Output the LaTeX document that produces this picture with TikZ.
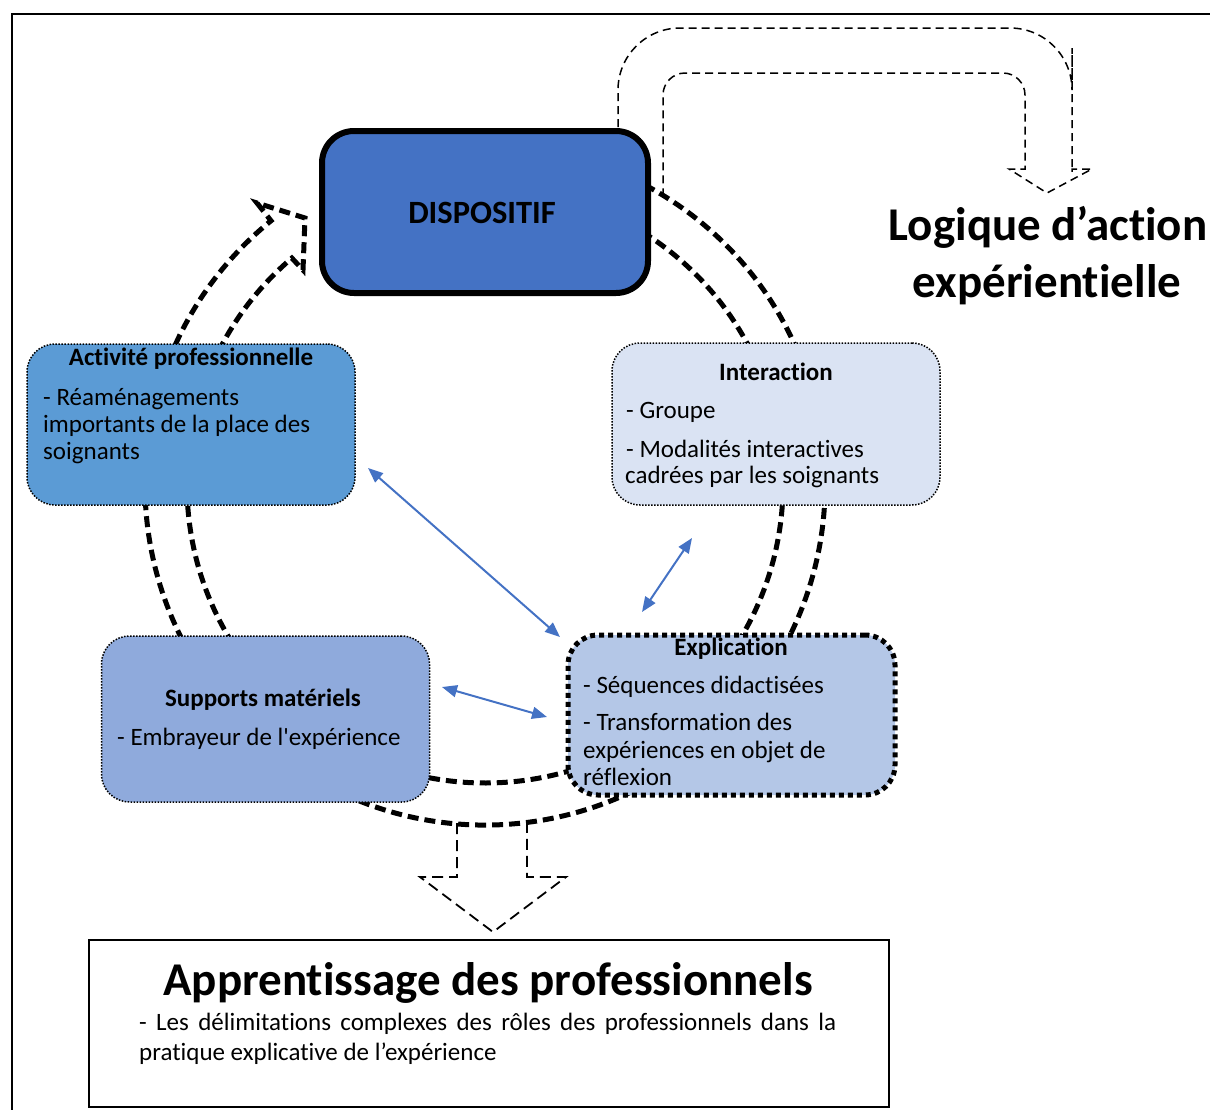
\documentclass[tikz,border=0pt]{standalone}
\usepackage{fontspec}
\setmainfont{Carlito}[Ligatures={TeX,NoCommon,NoRequired,NoContextual}, Contextuals=NoAlternate]
\usetikzlibrary{arrows.meta,calc}
\definecolor{dispblue}{HTML}{4472C4}
\definecolor{actblue}{HTML}{5B9BD5}
\definecolor{interblue}{HTML}{DAE3F3}
\definecolor{suppblue}{HTML}{8FAADC}
\definecolor{explblue}{HTML}{B4C7E7}
\newcommand\boxttl{\bfseries\fontsize{25}{27}\selectfont}
\newcommand\boxtxt{\fontsize{25}{27}\selectfont}
\newcommand\bigttl{\bfseries\fontsize{47}{58}\selectfont}
\newcommand\notetxt{\fontsize{25}{30}\selectfont}
\newcommand\dispttl{\bfseries\fontsize{32.5}{34}\selectfont}
% keeps "t" and "i" as separate glyphs
\newcommand\Ti{t\kern0pt i}
\begin{document}
\begin{tikzpicture}[x=1pt, y=-1pt,
  bigdash/.style={line width=5pt, dash pattern=on 11pt off 6pt},
  thindash/.style={line width=1.5pt, dash pattern=on 8pt off 5pt},
  softbox/.style={rounded corners=28pt, draw=black, line width=1.5pt,
    dash pattern=on 1.5pt off 1.5pt, inner sep=0pt},
  ttl/.style={font=\boxttl, anchor=base, inner sep=0pt},
  txt/.style={font=\boxtxt, anchor=base west, inner sep=0pt},
  link/.style={draw=dispblue, line width=2pt,
    {Triangle[length=15pt,width=12pt]}-{Triangle[length=15pt,width=12pt]}}]
\useasboundingbox (0,0) rectangle (1210,1109);
\clip (0,0) rectangle (1210,1109);

% outer frame (runs past the right and bottom edges)
\draw[line width=1.5pt] (12,14) rectangle (1240,1140);

% bent arrow towards the action logic
\draw[thindash]
  (618,140) [rounded corners=62pt] -- (618,28) -- (1072,28) -- (1072,110)
  [sharp corners] -- (1072,169) -- (1092,169) -- (1047,193) -- (1009,169)
  -- (1025,169) -- (1025,140) [rounded corners=22pt] -- (1025,73) -- (663,73)
  -- (663,195);

% circular block arrow around the device
\coordinate (cc) at (485,485);
\coordinate (hb1) at (257,203);
\coordinate (ht) at (305,218);
\coordinate (hb2) at (303,270);
\draw[bigdash]
  ($(cc)+(-62:340)$) arc[start angle=-62, end angle=231, radius=340]
  -- (hb1) -- (ht) -- (hb2)
  -- ($(cc)+(229.6:298)$) arc[start angle=229.6, end angle=-57, radius=298];

% downward block arrow to the learning box
\draw[line width=1.8pt, dash pattern=on 11pt off 6pt]
  (457,823) -- (457,877) -- (420,877) -- (493,932) -- (566,877)
  -- (527,877) -- (527,823);

% boxes
\node[draw=black, line width=6pt, rounded corners=32pt, fill=dispblue,
  minimum width=326pt, minimum height=162pt, inner sep=0pt] (disp) at (485,212) {};
\node[softbox, fill=actblue, minimum width=328pt, minimum height=161pt] (act) at (191,424.5) {};
\node[softbox, fill=interblue, minimum width=328pt, minimum height=162pt] (inter) at (776,424) {};
\node[softbox, fill=suppblue, minimum width=328pt, minimum height=166pt] (supp) at (265.5,719) {};
\node[draw=black, line width=5pt, dash pattern=on 5pt off 4pt, rounded corners=30pt,
  fill=explblue, minimum width=327pt, minimum height=160pt, inner sep=0pt] (expl) at (731.5,715) {};
\node[draw=black, line width=2pt, minimum width=800pt, minimum height=167pt,
  inner sep=0pt] (appr) at (489,1023.5) {};

% texts
\node[font=\dispttl, anchor=base, inner sep=0pt] (dispT) at (482,223) {DISPOSITIF};

\node[ttl] (actT) at (191,365) {Ac\Ti vité professionnelle};
\node[txt] (actL1) at (43,405) {- Réaménagements};
\node[txt] (actL2) at (43,432) {importants de la place des};
\node[txt] (actL3) at (43,459) {soignants};

\node[ttl] (interT) at (776,380) {Interac\Ti on};
\node[txt] (interL1) at (626,418) {- Groupe};
\node[txt] (interL2) at (626,457) {- Modalités interac\Ti ves};
\node[txt] (interL3) at (625,483) {cadrées par les soignants};

\node[ttl] (suppT) at (263,706) {Supports matériels};
\node[txt] (suppL1) at (117,745) {- Embrayeur de l\textquotesingle expérience};

\node[ttl] (explT) at (731,655) {Explica\Ti on};
\node[txt] (explL1) at (583,693) {- Séquences didac\Ti sées};
\node[txt] (explL2) at (583,730) {- Transforma\Ti on des};
\node[txt] (explL3) at (583,758) {expériences en objet de};
\node[txt] (explL4) at (583,785) {réflexion};

\node[font=\bigttl, anchor=base, inner sep=0pt] (logL1) at (1048,240) {Logique d’ac\Ti on};
\node[font=\bigttl, anchor=base, inner sep=0pt] (logL2) at (1047,297) {expérien\Ti elle};

\node[font=\bigttl, anchor=base, inner sep=0pt] (apprT) at (488,995) {Apprentissage des professionnels};
\node[font=\notetxt, anchor=base west, inner sep=0pt] (apprL1) at (139,1030)
  {\makebox[697pt][s]{- Les délimita\Ti ons complexes des rôles des professionnels dans la}};
\node[font=\notetxt, anchor=base west, inner sep=0pt] (apprL2) at (139,1060)
  {pra\Ti que explica\Ti ve de l’expérience};

% links between the poles
\coordinate (actE) at (368,468);
\coordinate (explNW) at (560,637);
\coordinate (interS) at (692,538);
\coordinate (explN) at (642,612);
\coordinate (suppE) at (442,687);
\coordinate (explW) at (547,717);
\draw[link] (actE) -- (explNW);
\draw[link] (interS) -- (explN);
\draw[link] (suppE) -- (explW);
\end{tikzpicture}
\end{document}
